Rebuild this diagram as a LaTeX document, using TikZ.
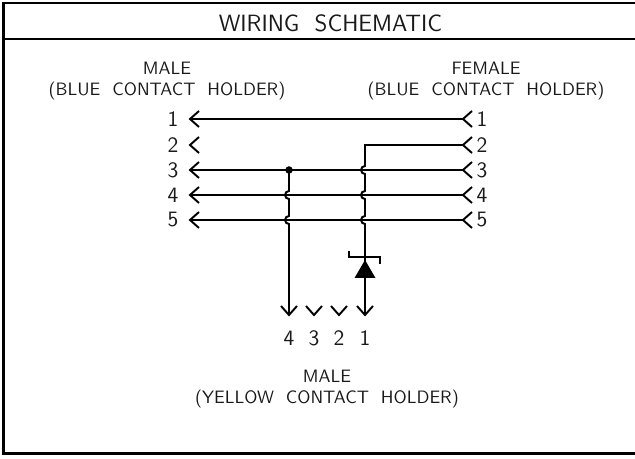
\documentclass[tikz,border=0pt]{standalone}
\tikzset{
  wire/.style={line width=1.1pt,black},
  frameline/.style={line width=1.5pt,black},
  label/.style={inner sep=0pt,align=center,text=black!90,font=\sffamily\fontsize{10.2}{10.2}\selectfont},
  pinno/.style={inner sep=0pt,text=black!90,font=\sffamily\fontsize{12.5}{12.5}\selectfont},
  chev/.pic={\draw[wire] (.18,.16) -- (0,0) -- (.18,-.16);}
}
\begin{document}
\begin{tikzpicture}
  \useasboundingbox (0,0) rectangle (12.7,9.18);
  \coordinate (tl) at (.07,9.12);
  \coordinate (tr) at (12.7,9.12);
  \coordinate (bl) at (.07,.11);
  \coordinate (br) at (12.7,.11);
  \coordinate (hl) at (.07,8.40);
  \coordinate (hr) at (12.7,8.40);
  \draw[frameline] (tr) -- (tl) -- (bl) -- (br);
  \draw[frameline] (hl) -- (hr);
  \node[label,font=\sffamily\fontsize{13.4}{13.4}\selectfont] (title) at (6.61,8.72) {WIRING\ \ SCHEMATIC};
  \node[label] (maleA) at (3.34,7.82) {MALE};
  \node[label] (maleB) at (3.34,7.36) {(BLUE\ \ CONTACT\ \ HOLDER)};
  \node[label] (femaleA) at (9.72,7.82) {FEMALE};
  \node[label] (femaleB) at (9.72,7.36) {(BLUE\ \ CONTACT\ \ HOLDER)};
  \node[label] (maleC) at (6.54,1.65) {MALE};
  \node[label] (maleD) at (6.54,1.20) {(YELLOW\ \ CONTACT\ \ HOLDER)};
  % contacts on the left
  \coordinate (m1) at (3.80,6.80);
  \coordinate (m2) at (3.80,6.28);
  \coordinate (m3) at (3.80,5.78);
  \coordinate (m4) at (3.80,5.28);
  \coordinate (m5) at (3.80,4.78);
  % contacts on the right
  \coordinate (f1) at (9.26,6.80);
  \coordinate (f2) at (9.26,6.28);
  \coordinate (f3) at (9.26,5.78);
  \coordinate (f4) at (9.26,5.28);
  \coordinate (f5) at (9.26,4.78);
  % contacts at the bottom
  \coordinate (y4) at (5.78,2.88);
  \coordinate (y3) at (6.28,2.88);
  \coordinate (y2) at (6.78,2.88);
  \coordinate (y1) at (7.30,2.88);
  \coordinate (split) at (5.78,5.78);
  \coordinate (bend) at (7.30,6.28);
  \node[pinno] (n1) at (3.46,6.80) {1};
  \node[pinno] (n2) at (3.46,6.28) {2};
  \node[pinno] (n3) at (3.46,5.78) {3};
  \node[pinno] (n4) at (3.46,5.28) {4};
  \node[pinno] (n5) at (3.46,4.78) {5};
  \node[pinno] (k1) at (9.64,6.80) {1};
  \node[pinno] (k2) at (9.64,6.28) {2};
  \node[pinno] (k3) at (9.64,5.78) {3};
  \node[pinno] (k4) at (9.64,5.28) {4};
  \node[pinno] (k5) at (9.64,4.78) {5};
  \node[pinno] (b4) at (5.78,2.42) {4};
  \node[pinno] (b3) at (6.28,2.42) {3};
  \node[pinno] (b2) at (6.78,2.42) {2};
  \node[pinno] (b1) at (7.30,2.42) {1};
  \draw[wire] (m1) -- (f1);
  \draw[wire] (m3) -- (f3);
  \draw[wire] (m4) -- (f4);
  \draw[wire] (m5) -- (f5);
  \draw[wire] (split) --++ (0,-.42) arc[start angle=90,end angle=270,radius=.08] --++ (0,-.34) arc[start angle=90,end angle=270,radius=.08] -- (y4);
  \draw[wire] (f2) -- (bend) --++ (0,-.42) arc[start angle=90,end angle=270,radius=.08] --++ (0,-.34) arc[start angle=90,end angle=270,radius=.08] --++ (0,-.34) arc[start angle=90,end angle=270,radius=.08] -- (y1);
  \path[fill=black] (split) circle (.075);
  \pic at (m1) {chev};
  \pic at (m2) {chev};
  \pic at (m3) {chev};
  \pic at (m4) {chev};
  \pic at (m5) {chev};
  \pic at (f1) {chev};
  \pic at (f2) {chev};
  \pic at (f3) {chev};
  \pic at (f4) {chev};
  \pic at (f5) {chev};
  \pic[rotate=90] at (y4) {chev};
  \pic[rotate=90] at (y3) {chev};
  \pic[rotate=90] at (y2) {chev};
  \pic[rotate=90] at (y1) {chev};
  % diode
  \path[fill=black] (7.30,3.98) -- (7.09,3.62) -- (7.51,3.62) -- cycle;
  \draw[line width=.8pt] (6.98,4.16) -- (6.98,4.04) -- (7.60,4.04) -- (7.60,3.90);
\end{tikzpicture}
\end{document}
